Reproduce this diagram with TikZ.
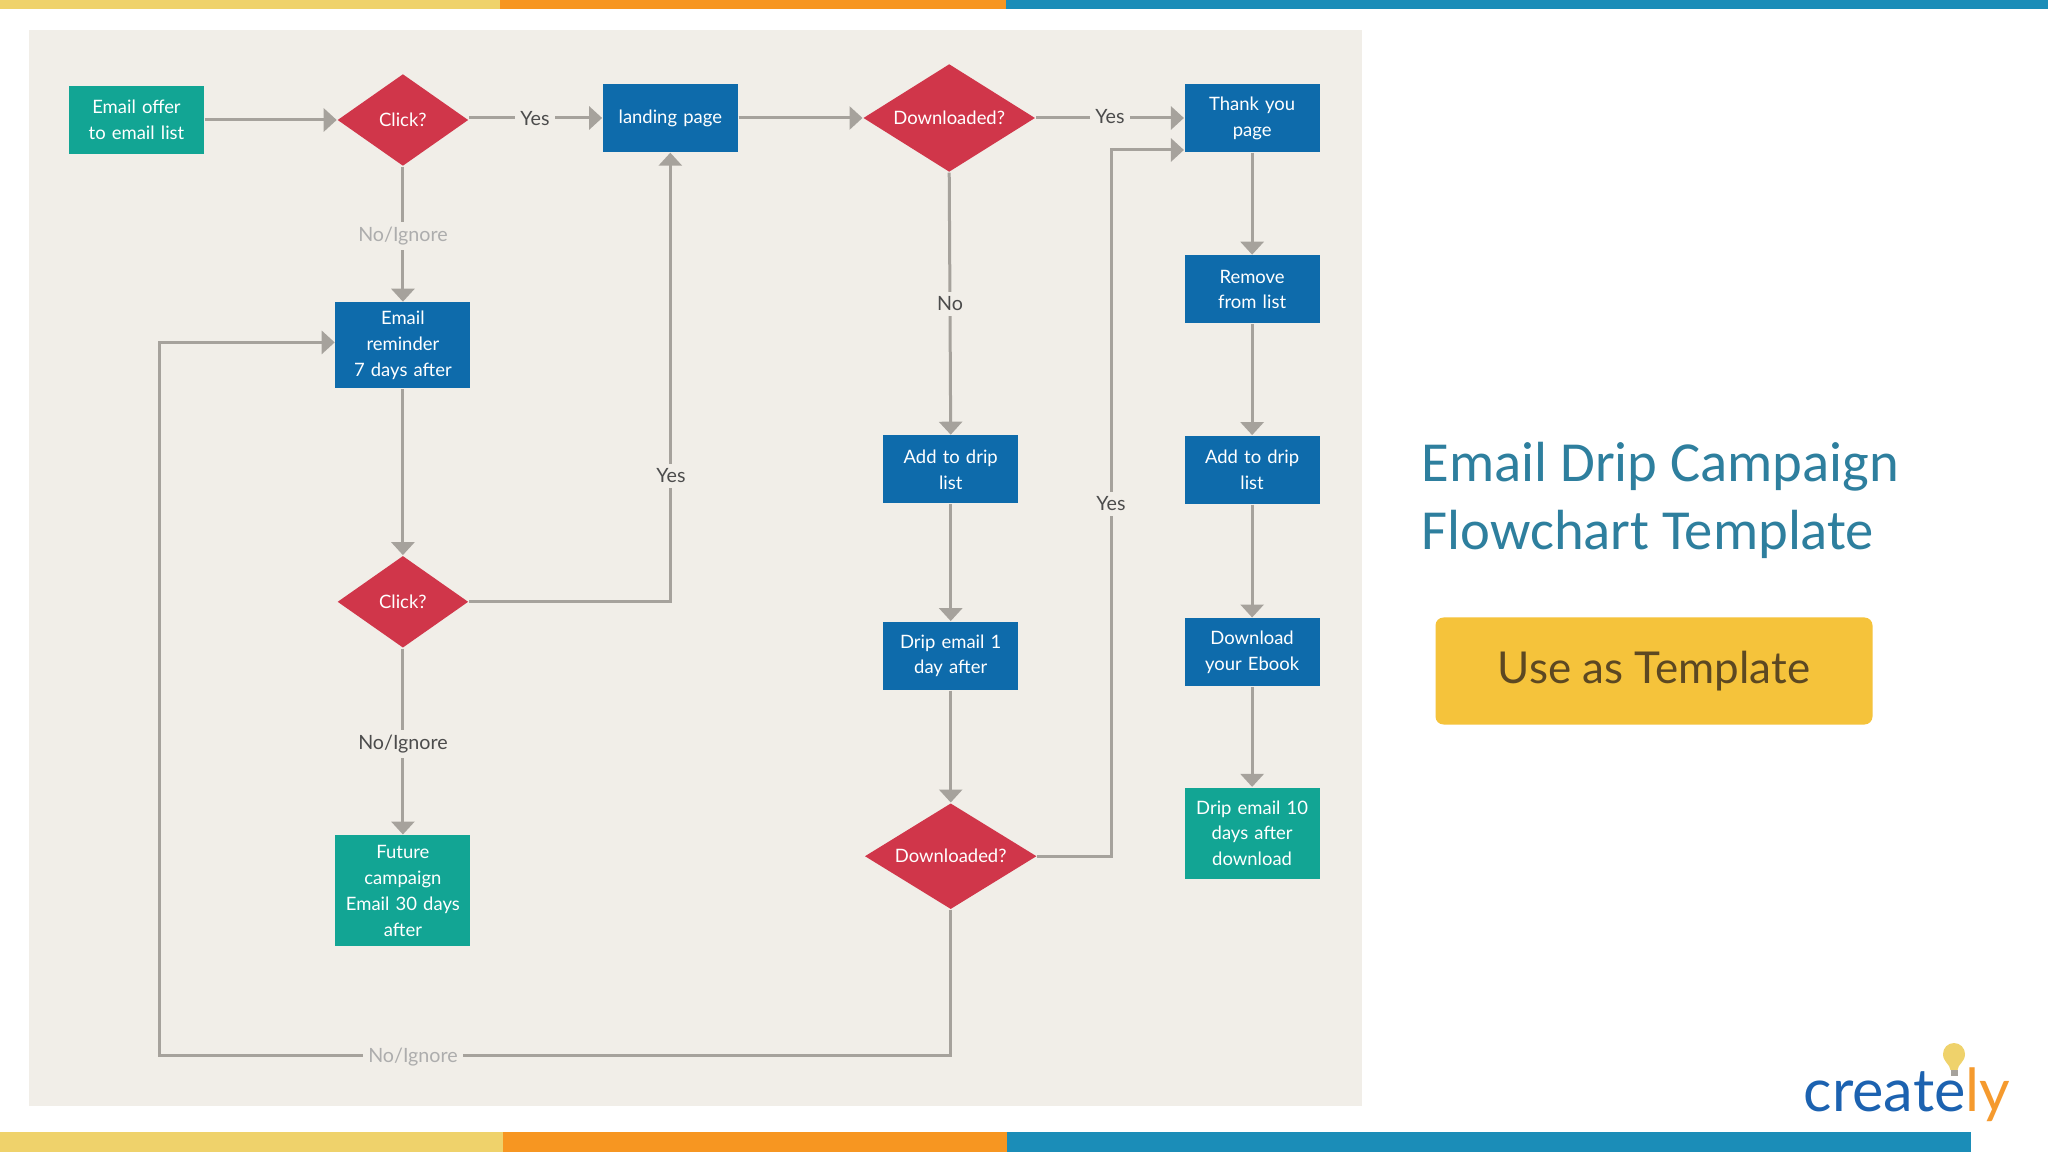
\documentclass[tikz,border=0pt]{standalone}
\usepackage{fontspec}
\setmainfont{Lato}
\newfontfamily\titlefont{Carlito}
\usetikzlibrary{arrows.meta,positioning,shapes.geometric,calc}
\definecolor{panel}{RGB}{241,238,232}
\definecolor{barcolA}{RGB}{239,210,107}
\definecolor{barcolB}{RGB}{247,150,33}
\definecolor{barcolC}{RGB}{27,141,184}
\definecolor{tealbox}{RGB}{18,165,148}
\definecolor{bluebox}{RGB}{14,107,171}
\definecolor{redbox}{RGB}{208,54,74}
\definecolor{slate}{RGB}{166,162,156}
\definecolor{titleblue}{RGB}{46,127,158}
\definecolor{btn}{RGB}{245,195,59}
\definecolor{btntext}{RGB}{92,72,34}
\definecolor{logoblue}{RGB}{28,98,176}
\definecolor{logoorange}{RGB}{245,154,46}

\begin{document}
\begin{tikzpicture}[font=\fontsize{5.6}{7.25}\selectfont,
 box/.style={fill=bluebox, text=white, align=center, text width=1.31cm, minimum width=1.35cm, minimum height=.68cm, inner sep=0pt, font=\fontsize{5.25}{7.35}\selectfont},
 teal/.style={box, fill=tealbox},
 choice/.style={diamond, shape aspect=1.6, fill=redbox, text=white, align=center, inner sep=0pt, font=\fontsize{5.25}{7.35}\selectfont},
 arr/.style={-{Triangle[length=.13cm,width=.23cm]}, line width=.03cm, color=slate},
 lbl/.style={fill=panel, text=black!70, inner sep=1.5pt},
 faint/.style={lbl, text=black!32}]
\useasboundingbox (0,0) rectangle (20.48,-11.52);
\fill[white] (0,0) rectangle (20.48,-11.52);
\fill[panel] (.29,-.30) rectangle (13.62,-11.06);
% colour bands
\fill[barcolA] (0,0) rectangle (5.00,-.09);
\fill[barcolB] (5.00,0) rectangle (10.06,-.09);
\fill[barcolC] (10.06,0) rectangle (20.48,-.09);
\fill[barcolA] (0,-11.32) rectangle (5.03,-11.52);
\fill[barcolB] (5.03,-11.32) rectangle (10.07,-11.52);
\fill[barcolC] (10.07,-11.32) rectangle (19.71,-11.52);

% top row
\node[teal] (offer) at (1.365,-1.20) {Email offer\\to email list};
\node[choice, minimum width=1.31cm, minimum height=.92cm, right=1.32cm of offer] (clicka) {Click?};
\node[box, right=1.33cm of clicka, yshift=.02cm] (landing) {landing page};
\node[choice, minimum width=1.72cm, minimum height=1.08cm, right=1.24cm of landing] (dla) {Downloaded?};
\node[box, right=1.48cm of dla] (thanks) {Thank you\\page};

% left column
\node[box, minimum height=.86cm, below=1.35cm of clicka] (reminder) {Email\\reminder\\7 days after};
\node[choice, minimum width=1.31cm, minimum height=.92cm, below=1.66cm of reminder] (clickb) {Click?};
\node[teal, minimum height=1.11cm, below=1.86cm of clickb] (future) {Future\\campaign\\Email 30 days\\after};

% middle column
\node[box, below=2.62cm of dla, xshift=.015cm] (dripadd) {Add to drip\\list};
\node[box, below=1.17cm of dripadd] (dripone) {Drip email 1\\day after};
\node[choice, minimum width=1.72cm, minimum height=1.06cm, below=1.12cm of dripone] (dlb) {Downloaded?};

% right column
\node[box, below=1.02cm of thanks] (remove) {Remove\\from list};
\node[box, below=1.11cm of remove] (addright) {Add to drip\\list};
\node[box, below=1.13cm of addright] (ebook) {Download\\your Ebook};
\node[teal, minimum height=.91cm, below=1.00cm of ebook] (dripten) {Drip email 10\\days after\\download};

\coordinate (bendup) at (11.11,-1.50);
\coordinate (loopdown) at (1.59,-10.55);

\draw[arr] (offer)--(clicka);
\draw[arr] ([yshift=.02cm]clicka.east)--(landing.west);
\draw[arr] (landing)--(dla);
\draw[arr] (dla)--(thanks);
\draw[arr] (clicka)--(reminder);
\draw[arr] (reminder)--(clickb);
\draw[arr] (clickb)--(future);
\draw[arr] (clickb.east) -| (landing.south);
\draw[arr] (dla.south)--(dripadd.north);
\draw[arr] (dripadd)--(dripone);
\draw[arr] (dripone)--(dlb);
\draw[arr] (dlb.east) -| (bendup) -- (bendup -| thanks.west);
\draw[arr] (dlb.south) |- (loopdown) |- ([yshift=.03cm]reminder.west);
\draw[arr] (thanks)--(remove);
\draw[arr] (remove)--(addright);
\draw[arr] (addright)--(ebook);
\draw[arr] (ebook)--(dripten);

\node[lbl] (yesa) at (5.35,-1.19) {Yes};
\node[lbl] (yesb) at (11.10,-1.17) {Yes};
\node[lbl] (yesc) at (6.71,-4.76) {Yes};
\node[lbl] (yesd) at (11.11,-5.04) {Yes};
\node[lbl] (noa) at (9.50,-3.04) {No};
\node[faint] (ignorea) at (4.03,-2.36) {No/Ignore};
\node[lbl] (ignoreb) at (4.03,-7.44) {No/Ignore};
\node[faint] (ignorec) at (4.13,-10.57) {No/Ignore};

% right side
\node[font=\titlefont\fontsize{16.1}{19.3}\selectfont, text=titleblue, align=left, anchor=north west, inner sep=0pt] (title) at (14.21,-4.42) {Email Drip Campaign\\Flowchart Template};
\node[fill=btn, text=btntext, rounded corners=.08cm, minimum width=4.37cm, minimum height=1.07cm, inner sep=0pt, font=\fontsize{12.5}{15}\selectfont] (button) at (16.54,-6.71) {Use as Template};

% logo
\node[anchor=base west, inner sep=0pt, font=\fontsize{16.9}{18}\selectfont] (logo) at (18.03,-11.12) {\textcolor{logoblue}{create}\textcolor{logoorange}{ly}};
\fill[barcolA] (19.65,-10.54) arc (0:180:.11) .. controls (19.43,-10.62) and (19.50,-10.64) .. (19.505,-10.70) -- (19.575,-10.70) .. controls (19.58,-10.64) and (19.65,-10.62) .. (19.65,-10.54) -- cycle;
\fill[slate] (19.505,-10.70) rectangle (19.575,-10.76);
\end{tikzpicture}
\end{document}
